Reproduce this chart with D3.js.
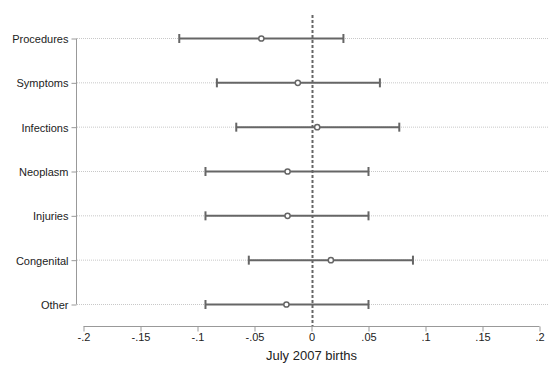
<!DOCTYPE html>
<html>
<head>
<meta charset="utf-8">
<script src="https://cdn.jsdelivr.net/npm/d3@7"></script>
<style>
    body { margin: 0; background: #fff; }
    text { font-family: "Liberation Sans", Arial, sans-serif; fill: #222; }
</style>
</head>
<body>
<script>
(function () {

    //chart data
    var categories = ["Procedures", "Symptoms", "Infections", "Neoplasm", "Injuries", "Congenital", "Other"];
    var estimates = [-0.044, -0.012, 0.005, -0.021, -0.021, 0.017, -0.022];
    var lower = [-0.116, -0.083, -0.066, -0.093, -0.093, -0.055, -0.093];
    var upper = [0.028, 0.060, 0.077, 0.050, 0.050, 0.089, 0.050];
    var xTicks = [-0.2, -0.15, -0.1, -0.05, 0, 0.05, 0.1, 0.15, 0.2];

    var width = 549,
        height = 367;

    var svg = d3.select("body")
        .append("svg")
        .attr("width", width)
        .attr("height", height);

    //scales
    var x = d3.scaleLinear()
        .domain([-0.2, 0.2])
        .range([83.5, 539.5]);

    var y = d3.scalePoint()
        .domain(categories)
        .range([38, 304]);

    //tick label formatter like stata: -.05, 0, .1
    function fmt(d) {
        if (d === 0) return "0";
        var s = String(+d.toFixed(2));
        return s.replace("0.", ".");
    }

    //gridlines
    svg.selectAll(".grid")
        .data(categories)
        .enter()
        .append("line")
        .attr("class", "grid")
        .attr("x1", 77)
        .attr("x2", 548)
        .attr("y1", function (d) { return y(d) + 0.5; })
        .attr("y2", function (d) { return y(d) + 0.5; })
        .style("stroke", "#c8c8c8")
        .style("stroke-width", 1)
        .style("stroke-dasharray", "1,1");

    //y axis
    var yAxis = d3.axisLeft(y)
        .tickSize(5)
        .tickPadding(3);

    var yg = svg.append("g")
        .attr("transform", "translate(76.5,0.5)")
        .call(yAxis);
    yg.select(".domain").attr("d", "M0," + y(categories[0]) + "V" + y(categories[categories.length - 1]));
    yg.selectAll("path, line").style("stroke", "#999").style("stroke-width", 1);
    yg.selectAll("text").style("font-size", "11px").attr("dy", "0.35em");

    //x axis
    var xAxis = d3.axisBottom(x)
        .tickValues(xTicks)
        .tickFormat(fmt)
        .tickSize(5)
        .tickPadding(2);

    var xg = svg.append("g")
        .attr("transform", "translate(0,326.5)")
        .call(xAxis);
    xg.select(".domain").attr("d", "M" + x(-0.2) + ",0H" + x(0.2));
    xg.selectAll("path, line").style("stroke", "#999").style("stroke-width", 1);
    xg.selectAll("text").style("font-size", "11px");

    svg.append("text")
        .attr("x", x(0))
        .attr("y", 360)
        .attr("text-anchor", "middle")
        .style("font-size", "13px")
        .text("July 2007 births");

    //zero reference line
    svg.append("line")
        .attr("x1", Math.round(x(0)) + 0.5)
        .attr("x2", Math.round(x(0)) + 0.5)
        .attr("y1", 15)
        .attr("y2", 326)
        .style("stroke", "#666")
        .style("stroke-width", 2)
        .style("stroke-dasharray", "3,2");

    //confidence intervals
    var rows = categories.map(function (c, i) {
        return { cat: c, est: estimates[i], lo: lower[i], hi: upper[i] };
    });

    var g = svg.selectAll(".ci")
        .data(rows)
        .enter()
        .append("g")
        .attr("class", "ci");

    g.append("line")
        .attr("x1", function (d) { return x(d.lo); })
        .attr("x2", function (d) { return x(d.hi); })
        .attr("y1", function (d) { return y(d.cat) + 0.5; })
        .attr("y2", function (d) { return y(d.cat) + 0.5; })
        .style("stroke", "#666")
        .style("stroke-width", 2);

    ["lo", "hi"].forEach(function (k) {
        g.append("line")
            .attr("x1", function (d) { return x(d[k]); })
            .attr("x2", function (d) { return x(d[k]); })
            .attr("y1", function (d) { return y(d.cat) - 4; })
            .attr("y2", function (d) { return y(d.cat) + 5; })
            .style("stroke", "#666")
            .style("stroke-width", 2);
    });

    g.append("circle")
        .attr("cx", function (d) { return x(d.est); })
        .attr("cy", function (d) { return y(d.cat) + 0.5; })
        .attr("r", 2.6)
        .style("fill", "#fff")
        .style("stroke", "#666")
        .style("stroke-width", 1.5);
})();
</script>
</body>
</html>
